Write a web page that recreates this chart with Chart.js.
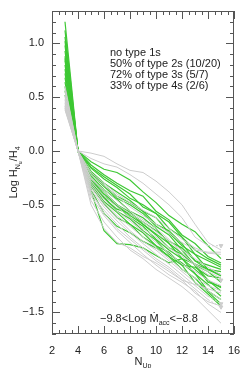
<!DOCTYPE html>
<html>
<head>
<meta charset="utf-8">
<script src="https://cdn.jsdelivr.net/npm/chart.js@4.4.1/dist/chart.umd.min.js"></script>
<style>
  html, body { margin: 0; padding: 0; background: #fff; }
  #wrap { width: 245px; height: 368px; }
</style>
</head>
<body>
<div id="wrap"><canvas id="chart"></canvas></div>
<script>
// upper level N_up for every point of a curve
const nUp = [3, 4, 5, 6, 7, 8, 9, 10, 11, 12, 13, 14, 15];

// gray curves (all objects), values of Log H_Nu/H_4
const gray01 = [0.60, 0, -0.02, -0.05, -0.12, -0.18, -0.20, -0.28, -0.38, -0.50, -0.68, -0.85, -0.92];
const gray02 = [0.52, 0, -0.07, -0.12, -0.15, -0.22, -0.30, -0.40, -0.50, -0.62, -0.80, -0.88, -0.88];
const gray03 = [0.45, 0, -0.20, -0.30, -0.40, -0.48, -0.55, -0.62, -0.72, -0.82, -0.90, -0.95, -0.96];
const gray04 = [0.50, 0, -0.25, -0.38, -0.50, -0.58, -0.66, -0.75, -0.84, -0.92, -1.00, -1.08, -1.15];
const gray05 = [0.42, 0, -0.28, -0.42, -0.52, -0.62, -0.72, -0.80, -0.90, -0.98, -1.06, -1.15, -1.20];
const gray06 = [0.40, 0, -0.30, -0.45, -0.56, -0.65, -0.75, -0.85, -0.95, -1.05, -1.12, -1.20, -1.25];
const gray07 = [0.38, 0, -0.32, -0.48, -0.60, -0.70, -0.80, -0.90, -1.00, -1.10, -1.18, -1.25, -1.30];
const gray08 = [0.55, 0, -0.34, -0.50, -0.62, -0.74, -0.84, -0.92, -1.02, -1.12, -1.22, -1.30, -1.38];
const gray09 = [0.48, 0, -0.36, -0.52, -0.65, -0.76, -0.86, -0.96, -1.05, -1.15, -1.25, -1.35, -1.42];
const gray10 = [0.44, 0, -0.40, -0.55, -0.68, -0.80, -0.90, -1.00, -1.08, -1.18, -1.28, -1.38, -1.45];
const gray11 = [0.42, 0, -0.42, -0.60, -0.74, -0.85, -0.96, -1.06, -1.15, -1.22, -1.30, -1.42, -1.50];
const gray12 = [0.40, 0, -0.46, -0.66, -0.80, -0.92, -1.00, -1.10, -1.18, -1.26, -1.36, -1.48, -1.60];
const gray13 = [0.39, 0, -0.50, -0.72, -0.85, -0.90, -0.98, -1.04, -1.12, -1.20, -1.24, -1.28, -1.32];
const gray14 = [0.58, 0, -0.22, -0.32, -0.42, -0.52, -0.60, -0.68, -0.76, -0.85, -0.92, -0.94, -0.94];
const gray15 = [0.47, 0, -0.26, -0.36, -0.46, -0.56, -0.64, -0.72, -0.82, -0.95, -1.05, -1.12, -1.18];
const gray16 = [0.41, 0, -0.38, -0.58, -0.72, -0.82, -0.92, -1.02, -1.10, -1.20, -1.32, -1.40, -1.44];
const grayCurves = [gray01, gray02, gray03, gray04, gray05, gray06, gray07, gray08,
                    gray09, gray10, gray11, gray12, gray13, gray14, gray15, gray16];
// curves whose last point is an upper limit
const grayLimits = [false, true, false, false, true, false, false, false,
                    true, true, false, false, false, false, false, false];

// green curves (objects in this accretion bin)
const green01 = [1.20, 0, -0.10, -0.17, -0.20, -0.27, -0.38, -0.48, -0.60, -0.68, -0.75, -0.88, -1.00];
const green02 = [1.12, 0, -0.13, -0.22, -0.30, -0.37, -0.42, -0.56, -0.64, -0.78, -0.86, -0.98, -1.04];
const green03 = [1.06, 0, -0.16, -0.26, -0.34, -0.44, -0.50, -0.58, -0.72, -0.80, -0.96, -1.02, -1.08];
const green04 = [0.98, 0, -0.19, -0.30, -0.38, -0.46, -0.56, -0.62, -0.76, -0.88, -0.96, -1.10, -1.15];
const green05 = [0.93, 0, -0.21, -0.33, -0.44, -0.50, -0.58, -0.70, -0.78, -0.92, -1.06, -1.12, -1.22];
const green06 = [0.88, 0, -0.23, -0.36, -0.45, -0.56, -0.62, -0.72, -0.86, -0.95, -1.06, -1.20, -1.27];
const green07 = [0.84, 0, -0.25, -0.38, -0.50, -0.57, -0.68, -0.77, -0.86, -1.00, -1.10, -1.20, -1.30];
const green08 = [0.80, 0, -0.27, -0.42, -0.51, -0.62, -0.70, -0.82, -0.92, -1.00, -1.14, -1.24, -1.35];
const green09 = [0.76, 0, -0.29, -0.43, -0.56, -0.63, -0.74, -0.83, -0.96, -1.04, -1.14, -1.30, -1.38];
const green10 = [0.72, 0, -0.31, -0.47, -0.57, -0.68, -0.76, -0.88, -0.98, -1.10, -1.18, -1.31, -1.42];
const green11 = [0.68, 0, -0.33, -0.49, -0.62, -0.68, -0.80, -0.88, -0.94, -1.06, -1.22, -1.33, -1.44];
const green12 = [0.64, 0, -0.37, -0.74, -0.86, -0.87, -0.90, -0.97, -1.04, -1.00, -1.05, -1.10, -1.12];
const green13 = [0.60, 0, -0.36, -0.58, -0.70, -0.76, -0.84, -0.90, -0.98, -1.06, -1.08, -1.16, -1.18];
const green14 = [0.56, 0, -0.30, -0.44, -0.54, -0.58, -0.66, -0.74, -0.84, -0.90, -1.02, -1.06, -1.10];
const green15 = [1.02, 0, -0.15, -0.24, -0.32, -0.40, -0.52, -0.58, -0.66, -0.80, -0.92, -1.00, -1.06];
const green16 = [0.86, 0, -0.20, -0.32, -0.42, -0.48, -0.56, -0.68, -0.74, -0.86, -1.02, -1.10, -1.16];
const green17 = [0.52, 0, -0.26, -0.40, -0.50, -0.60, -0.68, -0.78, -0.90, -0.96, -1.06, -1.22, -1.26];
const greenCurves = [green01, green02, green03, green04, green05, green06, green07, green08, green09,
                     green10, green11, green12, green13, green14, green15, green16, green17];

const xTicks = [2, 4, 6, 8, 10, 12, 14, 16];
const yTicks = [-1.5, -1.0, -0.5, 0.0, 0.5, 1.0];
const notes = ['no type 1s', '50% of type 2s (10/20)', '72% of type 3s (5/7)', '33% of type 4s (2/6)'];

const FONT = '"Liberation Sans", Arial, "DejaVu Sans", sans-serif';
const GREEN = 'rgb(62, 200, 52)';
const GRAY = 'rgb(205, 205, 205)';
const AXIS = '#555';

const toPoints = (vals) => vals.map((v, i) => ({ x: nUp[i], y: v }));
const minus = (s) => s.replace('-', '\u2212');

const datasets = [];
grayCurves.forEach((vals, k) => {
    const last = vals.length - 1;
    const lim = grayLimits[k];
    datasets.push({
        data: toPoints(vals),
        borderColor: GRAY,
        borderWidth: 1,
        pointRadius: vals.map((_, i) => (lim && i === last ? 2.2 : 0)),
        pointStyle: 'triangle',
        rotation: 180,
        pointBackgroundColor: GRAY,
        pointBorderColor: GRAY,
        segment: { borderDash: (c) => (lim && c.p1DataIndex === last ? [2, 2] : undefined) },
    });
});
greenCurves.forEach((vals) => {
    datasets.push({
        data: toPoints(vals),
        borderColor: GREEN,
        borderWidth: 1.2,
        pointRadius: 0,
    });
});

// frame, inward ticks, axis titles and annotation text
const decorPlugin = {
    id: 'decor',
    afterDraw(chart) {
        const { ctx, chartArea: a, scales: { x, y } } = chart;
        ctx.save();
        ctx.strokeStyle = AXIS;
        ctx.lineWidth = 1;
        ctx.strokeRect(a.left + 0.5, a.top + 0.5, a.right - a.left - 1, a.bottom - a.top - 1);

        ctx.beginPath();
        for (let v = 2; v <= 16.001; v += 0.5) {
            const px = Math.round(x.getPixelForValue(v)) + 0.5;
            const len = Math.abs(v % 2) < 0.01 ? 8 : 4;
            ctx.moveTo(px, a.bottom); ctx.lineTo(px, a.bottom - len);
            ctx.moveTo(px, a.top); ctx.lineTo(px, a.top + len);
        }
        for (let i = -17; i <= 13; i++) {
            const v = i / 10;
            const py = Math.round(y.getPixelForValue(v)) + 0.5;
            const len = i % 5 === 0 ? 8 : 4;
            ctx.moveTo(a.left, py); ctx.lineTo(a.left + len, py);
            ctx.moveTo(a.right, py); ctx.lineTo(a.right - len, py);
        }
        ctx.stroke();

        ctx.fillStyle = '#222';
        ctx.textBaseline = 'alphabetic';
        ctx.textAlign = 'left';

        // annotation block
        ctx.font = '11px ' + FONT;
        notes.forEach((t, i) => ctx.fillText(t, 110, 56 + i * 11));

        // accretion range text with subscript
        let tx = 100, ty = 322;
        const part = (s, size, dy) => {
            ctx.font = size + 'px ' + FONT;
            ctx.fillText(s, tx, ty + dy);
            tx += ctx.measureText(s).width;
        };
        part('\u22129.8<Log \u1E40', 11, 0);
        part('acc', 7, 3);
        part('<\u22128.8', 11, 0);

        // x title N_Up
        ctx.font = '11px ' + FONT;
        const wN = ctx.measureText('N').width;
        ctx.font = '7px ' + FONT;
        const wUp = ctx.measureText('Up').width;
        tx = (a.left + a.right) / 2 - (wN + wUp) / 2;
        ty = 365;
        part('N', 11, 0);
        part('Up', 7, 3);

        // y title Log H_Nu/H_4, rotated
        ctx.translate(13, (a.top + a.bottom) / 2);
        ctx.rotate(-Math.PI / 2);
        const pieces = [['Log H', 11, 0], ['N', 7, 3], ['u', 5, 5], ['/H', 11, 0], ['4', 7, 3]];
        let total = 0;
        pieces.forEach(([s, sz]) => { ctx.font = sz + 'px ' + FONT; total += ctx.measureText(s).width; });
        tx = -total / 2; ty = 4;
        pieces.forEach(([s, sz, dy]) => part(s, sz, dy));
        ctx.restore();
    },
};

new Chart(document.getElementById('chart'), {
    type: 'line',
    data: { datasets },
    plugins: [decorPlugin],
    options: {
        responsive: true,
        maintainAspectRatio: false,
        animation: false,
        events: [],
        layout: { padding: { top: 11, right: 11, left: 0, bottom: 0 } },
        plugins: { legend: { display: false }, tooltip: { enabled: false } },
        scales: {
            x: {
                type: 'linear',
                min: 2,
                max: 16,
                grid: { display: false },
                border: { display: false },
                afterBuildTicks: (s) => { s.ticks = xTicks.map((v) => ({ value: v })); },
                afterFit: (s) => { s.height = 34; },
                ticks: {
                    padding: 2,
                    color: '#222',
                    font: { family: FONT, size: 11 },
                    maxRotation: 0,
                    callback: (v) => String(v),
                },
            },
            y: {
                type: 'linear',
                min: -1.7,
                max: 1.3,
                grid: { display: false },
                border: { display: false },
                afterBuildTicks: (s) => { s.ticks = yTicks.map((v) => ({ value: v })); },
                afterFit: (s) => { s.width = 52; },
                ticks: {
                    padding: 0,
                    color: '#222',
                    font: { family: FONT, size: 11 },
                    callback: (v) => minus(Number(v).toFixed(1)),
                },
            },
        },
    },
});
</script>
</body>
</html>
